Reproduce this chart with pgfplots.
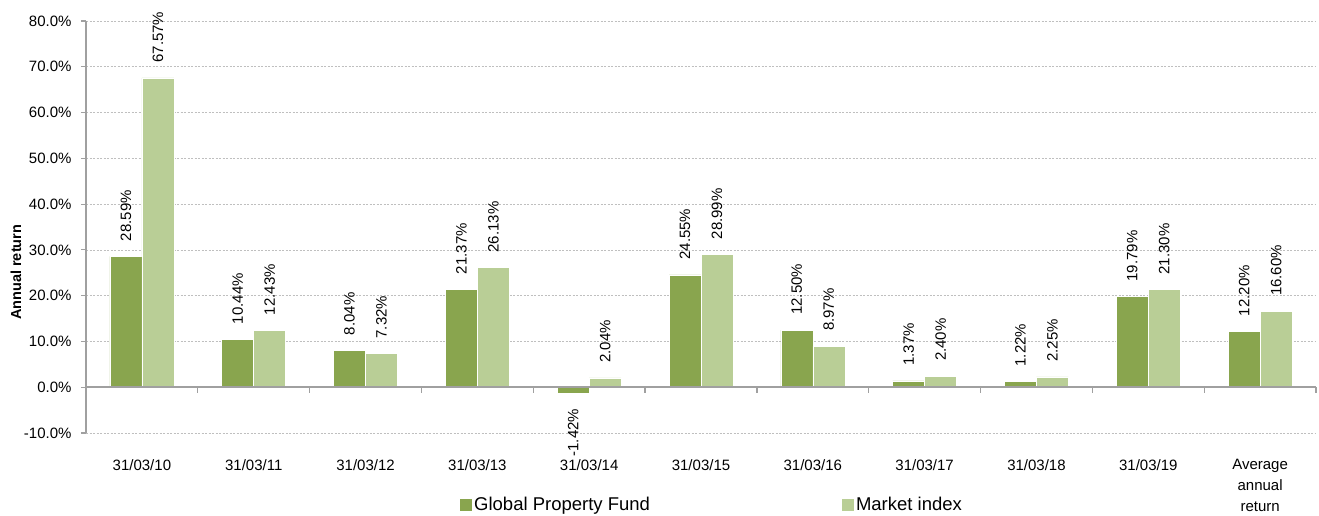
\documentclass[border=0pt]{standalone}
\usepackage{pgfplots}
\pgfplotsset{compat=1.18}
\usepackage{fontspec}
\setmainfont{Liberation Sans}
\definecolor{dkgreen}{HTML}{89A54E}
\definecolor{ltgreen}{HTML}{B9CE96}
\definecolor{axgray}{HTML}{A0A0A0}
\definecolor{gridgray}{HTML}{BFBFBF}
\begin{document}
\begin{tikzpicture}
\path[use as bounding box] (0,0) rectangle (1319bp,516bp);
\begin{axis}[
  at={(86bp,83bp)}, anchor=south west,
  scale only axis, width=1230bp, height=412bp,
  clip=false,
  xmin=-0.5, xmax=10.5, ymin=-10, ymax=80,
  ybar=0pt, bar width=32bp,
  /pgf/number format/assume math mode=true,
  axis x line*=bottom, axis y line*=left,
  x axis line style={draw=none},
  y axis line style={axgray, line width=1.5bp},
  xtick={0,...,10},
  xticklabels={31/03/10,31/03/11,31/03/12,31/03/13,31/03/14,31/03/15,31/03/16,31/03/17,31/03/18,31/03/19,{Average\\annual\\return}},
  xtick style={draw=none},
  xticklabel style={font=\fontsize{15bp}{21bp}\selectfont, align=center, anchor=north, yshift=-18bp},
  ytick={-10,0,...,80},
  ytick align=outside,
  ytick style={axgray, line width=1.2bp},
  major tick length=5bp,
  yticklabel={\pgfmathprintnumber[fixed,fixed zerofill,precision=1]{\tick}\%},
  yticklabel style={font=\fontsize{15bp}{18bp}\selectfont, xshift=-6bp},
  ymajorgrids,
  grid style={gridgray, dashed, line width=0.6bp, dash pattern=on 2bp off 1.5bp},
  ylabel={Annual return},
  every axis y label/.style={at={(axis description cs:-0.057,0.39)}, rotate=90, anchor=center, font=\fontsize{14.5bp}{18bp}\selectfont\bfseries},
  nodes near coords={\pgfmathprintnumber[fixed,fixed zerofill,precision=2]{\pgfplotspointmeta}\%},
  every node near coord/.append style={font=\fontsize{15bp}{18bp}\selectfont, text=black, rotate=90, inner xsep=15bp, inner ysep=0pt},
  legend columns=2,
  legend image code/.code={\fill[#1, draw=none] (0bp,-6bp) rectangle (12bp,6bp);},
  legend style={at={(0.509,0)}, anchor=center, yshift=-72bp, draw=none, fill=none,
    font=\fontsize{18.5bp}{22bp}\selectfont,
    /tikz/every even column/.append style={column sep=190bp},
    inner xsep=0pt},
]
\addplot[fill=dkgreen, draw=white, line width=0.5bp, bar shift=-16bp,
  every node near coord/.append style={anchor=west}] coordinates {
 (0,28.59) (1,10.44) (2,8.04) (3,21.37) (5,24.55) (6,12.50) (7,1.37) (8,1.22) (9,19.79) (10,12.20)};
\addplot[fill=ltgreen, draw=white, line width=0.5bp, bar shift=16bp,
  every node near coord/.append style={anchor=west}] coordinates {
 (0,67.57) (1,12.43) (2,7.32) (3,26.13) (4,2.04) (5,28.99) (6,8.97) (7,2.40) (8,2.25) (9,21.30) (10,16.60)};
\addplot[fill=dkgreen, draw=white, line width=0.5bp, bar shift=-16bp, forget plot,
  every node near coord/.append style={anchor=east}] coordinates {
 (4,-1.42)};
\legend{Global Property Fund, Market index}
\draw[axgray, line width=1.5bp] (axis cs:-0.5,0) -- (axis cs:10.5,0);
\pgfplotsinvokeforeach{0.5,1.5,2.5,3.5,4.5,5.5,6.5,7.5,8.5,9.5,10.5}{
  \draw[axgray, line width=1.2bp] (axis cs:#1,0) -- ([yshift=-6bp]axis cs:#1,0);
}
\end{axis}
\end{tikzpicture}
\end{document}
